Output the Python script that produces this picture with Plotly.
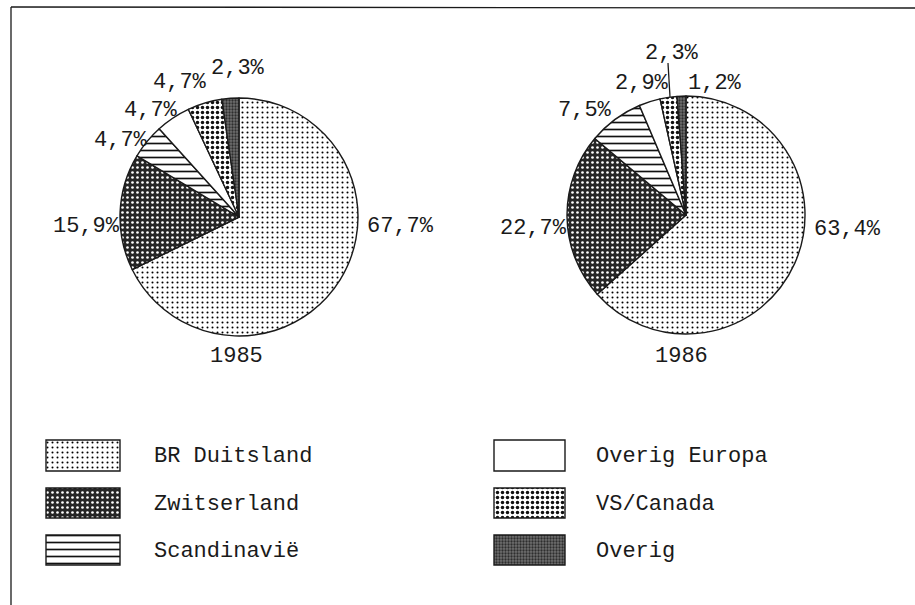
import plotly.graph_objects as go

# ---------------- data ----------------
categories = ["BR Duitsland", "Zwitserland", "Scandinavië",
              "Overig Europa", "VS/Canada", "Overig"]
values_1985 = [67.7, 15.9, 4.7, 4.7, 4.7, 2.3]
values_1986 = [63.4, 22.7, 7.5, 2.9, 2.3, 1.2]
years = ["1985", "1986"]

# ---------------- styles ----------------
pat_shape = [".", ".", "-", "", ".", "."]
pat_fg = ["#000000", "#ffffff", "#111111", "#111111", "#111111", "#2e2e2e"]
pat_bg = ["#ffffff", "#262626", "#ffffff", "#ffffff", "#ffffff", "#707070"]
pat_size = [5, 5, 7, 8, 5, 3]
pat_solid = [0.13, 0.22, 0.24, 0.3, 0.38, 0.45]

W, H = 915, 605
FONT = "Liberation Mono, Courier New, monospace"
INK = "#1a1a1a"

# pie placement (pixel centres / radius)
pie_geom = [(239, 217, 119), (686, 215, 119)]

# label positions (pixel centres) per slice
label_pos = [
    [(400, 226), (86, 226), (121, 140), (151, 110), (180, 82), (238, 68)],
    [(847, 229), (533, 228), (585, 110), (642, 83), (672, 53), (715, 83)],
]
year_pos = [(236, 356), (681, 356)]

# legend layout
legend_cols_x = [(46, 120, 152), (494, 565, 594)]   # swatch x0, x1, text x
legend_rows_y = [(440, 471), (488, 518), (535, 565)]


def fmt(v):
    return f"{v:.1f}".replace(".", ",") + "%"


fig = go.Figure()

pattern = dict(shape=pat_shape, fgcolor=pat_fg, bgcolor=pat_bg,
               size=pat_size, solidity=pat_solid, fillmode="replace")

for (cx, cy, r), vals in zip(pie_geom, [values_1985, values_1986]):
    fig.add_trace(go.Pie(
        labels=categories, values=vals, sort=False, direction="clockwise",
        rotation=0, textinfo="none", hoverinfo="label+value",
        showlegend=False,
        marker=dict(colors=pat_bg, pattern=pattern,
                    line=dict(color=INK, width=1.4)),
        domain=dict(x=[(cx - r) / W, (cx + r) / W],
                    y=[(H - cy - r) / H, (H - cy + r) / H]),
    ))

annotations = []
for vals, poss in zip([values_1985, values_1986], label_pos):
    for v, (x, y) in zip(vals, poss):
        annotations.append(dict(x=x, y=y, xref="x", yref="y", text=fmt(v),
                                showarrow=False, xanchor="center", yanchor="middle",
                                font=dict(family=FONT, size=22, color=INK)))
for yr, (x, y) in zip(years, year_pos):
    annotations.append(dict(x=x, y=y, xref="x", yref="y", text=yr,
                            showarrow=False, xanchor="center", yanchor="middle",
                            font=dict(family=FONT, size=22, color=INK)))

# legend swatches: one patterned bar per category
for i, name in enumerate(categories):
    col, row = divmod(i, 3)
    x0, x1, tx = legend_cols_x[col]
    y0, y1 = legend_rows_y[row]
    fig.add_trace(go.Bar(
        x=[(x0 + x1) / 2], y=[y1 - y0], base=[y0], width=[x1 - x0],
        showlegend=False, hoverinfo="skip",
        marker=dict(color=pat_bg[i],
                    pattern=dict(shape=pat_shape[i], fgcolor=pat_fg[i],
                                 bgcolor=pat_bg[i], size=pat_size[i],
                                 solidity=pat_solid[i], fillmode="replace"),
                    line=dict(color=INK, width=1.4)),
    ))
    annotations.append(dict(x=tx, y=(y0 + y1) / 2 + 1, xref="x", yref="y", text=name,
                            showarrow=False, xanchor="left", yanchor="middle",
                            font=dict(family=FONT, size=22, color=INK)))

shapes = [
    # leader line for 1986 "2,3%" label
    dict(type="line", xref="x", yref="y", x0=668, y0=63, x1=670, y1=97,
         line=dict(color=INK, width=1.3)),
    # frame (left and top edges visible)
    dict(type="line", xref="x", yref="y", x0=11, y0=7, x1=11, y1=H,
         line=dict(color=INK, width=1.3)),
    dict(type="line", xref="x", yref="y", x0=11, y0=7, x1=W, y1=8,
         line=dict(color=INK, width=1.3)),
]

fig.update_layout(
    width=W, height=H, margin=dict(l=0, r=0, t=0, b=0),
    paper_bgcolor="white", plot_bgcolor="white",
    xaxis=dict(range=[0, W], visible=False, fixedrange=True, domain=[0, 1]),
    yaxis=dict(range=[H, 0], visible=False, fixedrange=True, domain=[0, 1]),
    barmode="overlay",
    annotations=annotations, shapes=shapes, showlegend=False,
)

fig.write_html("out.html", config={"displayModeBar": False},
               post_script="document.body.style.margin='0';")
